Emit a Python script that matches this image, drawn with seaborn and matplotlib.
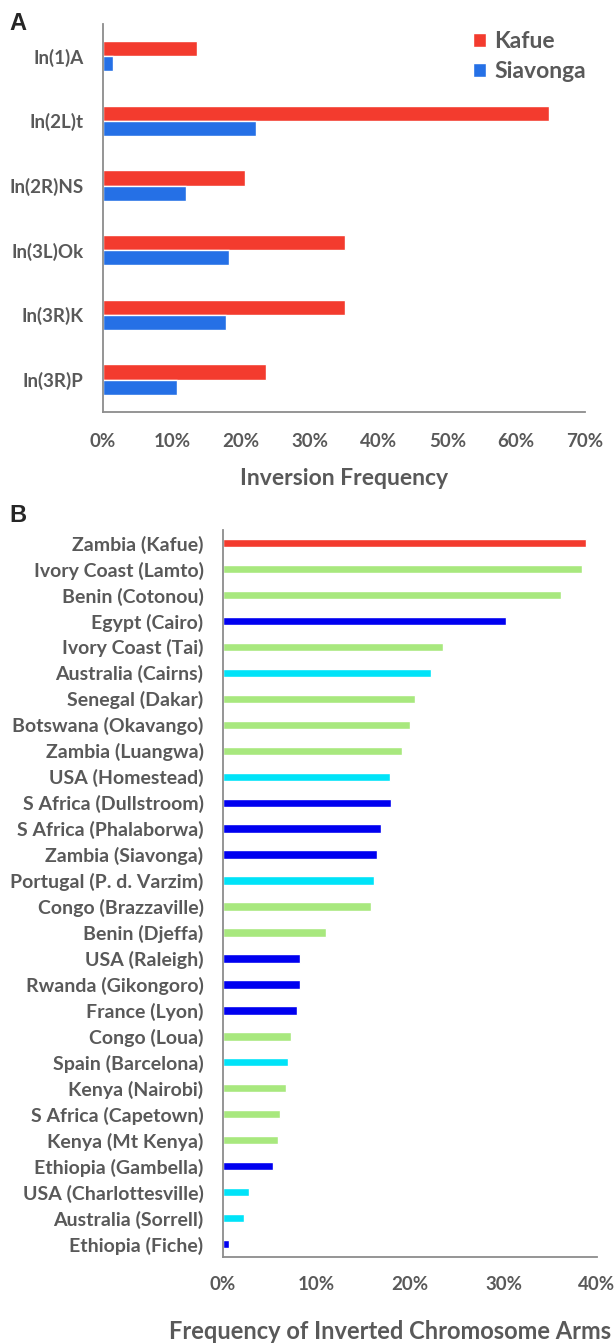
import pandas as pd
import numpy as np
import matplotlib
matplotlib.use('Agg')
import matplotlib.pyplot as plt
import seaborn as sns
from matplotlib.ticker import PercentFormatter

# panel A data
inversions = ['In(1)A', 'In(2L)t', 'In(2R)NS', 'In(3L)Ok', 'In(3R)K', 'In(3R)P']
kafue = [13.7, 64.7, 20.6, 35.1, 35.1, 23.6]
siavonga = [1.5, 22.2, 12.0, 18.3, 17.9, 10.7]

# panel B data
populations = ['Zambia (Kafue)', 'Ivory Coast (Lamto)', 'Benin (Cotonou)', 'Egypt (Cairo)',
               'Ivory Coast (Tai)', 'Australia (Cairns)', 'Senegal (Dakar)', 'Botswana (Okavango)',
               'Zambia (Luangwa)', 'USA (Homestead)', 'S Africa (Dullstroom)', 'S Africa (Phalaborwa)',
               'Zambia (Siavonga)', 'Portugal (P. d. Varzim)', 'Congo (Brazzaville)', 'Benin (Djeffa)',
               'USA (Raleigh)', 'Rwanda (Gikongoro)', 'France (Lyon)', 'Congo (Loua)',
               'Spain (Barcelona)', 'Kenya (Nairobi)', 'S Africa (Capetown)', 'Kenya (Mt Kenya)',
               'Ethiopia (Gambella)', 'USA (Charlottesville)', 'Australia (Sorrell)', 'Ethiopia (Fiche)']
arm_freq = [38.8, 38.4, 36.2, 30.3, 23.5, 22.2, 20.5, 20.0, 19.2, 17.9, 18.0, 16.9, 16.5, 16.2,
            15.8, 11.0, 8.2, 8.2, 7.9, 7.3, 7.0, 6.7, 6.1, 5.9, 5.4, 2.8, 2.2, 0.6]
groups = ['kafue', 'green', 'green', 'blue', 'green', 'cyan', 'green', 'green', 'green', 'cyan',
          'blue', 'blue', 'blue', 'cyan', 'green', 'green', 'blue', 'blue', 'blue', 'green',
          'cyan', 'green', 'green', 'green', 'blue', 'cyan', 'cyan', 'blue']

group_colors = {'kafue': '#F33B2E', 'green': '#A8E87E', 'blue': '#0000F0', 'cyan': '#00E3F8'}
txt = '#595959'
spine = '#8C8C8C'

sns.set_style('white')
plt.rcParams['font.family'] = ['Lato', 'DejaVu Sans']

fig = plt.figure(figsize=(6.16, 13.44), dpi=100)

# ---- panel A
dfa = pd.DataFrame({
    'inv': inversions * 2,
    'freq': kafue + siavonga,
    'site': ['Kafue'] * len(inversions) + ['Siavonga'] * len(inversions),
})
ax1 = fig.add_axes([0.1672, 0.6935, 0.7825, 0.2887])
sns.barplot(data=dfa, y='inv', x='freq', hue='site', orient='h', width=0.47,
            palette={'Kafue': '#F33B2E', 'Siavonga': '#2570E6'}, ax=ax1, saturation=1)
ax1.set_xlim(0, 70)
ax1.set_ylim(5.5, -0.5)
ax1.set_xticks(np.arange(0, 71, 10))
ax1.xaxis.set_major_formatter(PercentFormatter(100, decimals=0))
ax1.set_ylabel('')
ax1.set_xlabel('Inversion Frequency', fontsize=16.5, fontweight='bold', color=txt)
ax1.xaxis.set_label_coords(0.5, -0.144)
ax1.legend(loc='upper right', bbox_to_anchor=(1.045, 1.035), frameon=False,
           handlelength=0.58, handleheight=0.58, handletextpad=0.35, labelspacing=0.4,
           labelcolor=txt, prop={'weight': 'bold', 'size': 16.5})

# ---- panel B
dfb = pd.DataFrame({'pop': populations, 'freq': arm_freq, 'grp': groups})
ax2 = fig.add_axes([0.362, 0.0647, 0.6071, 0.5409])
sns.barplot(data=dfb, y='pop', x='freq', hue='pop', orient='h', width=0.32, legend=False,
            palette={p: group_colors[g] for p, g in zip(populations, groups)}, ax=ax2, saturation=1)
ax2.set_xlim(0, 40)
ax2.set_ylim(len(populations) - 0.5, -0.5)
ax2.set_xticks(np.arange(0, 41, 10))
ax2.xaxis.set_major_formatter(PercentFormatter(100, decimals=0))
ax2.set_ylabel('')
ax2.set_xlabel('Frequency of Inverted Chromosome Arms', fontsize=17, fontweight='bold', color=txt)
ax2.xaxis.set_label_coords(0.447, -0.087)

for ax, ysize, xpad in [(ax1, 13.5, 15), (ax2, 14, 13.5)]:
    for s in ['top', 'right']:
        ax.spines[s].set_visible(False)
    for s in ['left', 'bottom']:
        ax.spines[s].set_color(spine)
        ax.spines[s].set_linewidth(1.3)
    ax.tick_params(axis='x', direction='in', length=5, width=1.2, color=spine,
                   labelsize=13.5, labelcolor=txt, pad=xpad)
    ax.tick_params(axis='y', length=0, labelsize=ysize, labelcolor=txt, pad=14)
    for lab in ax.get_xticklabels() + ax.get_yticklabels():
        lab.set_fontweight('bold')

fig.text(9 / 616, 1 - 24 / 1344, 'A', fontsize=17, fontweight='bold', family='Liberation Sans',
         va='center', ha='left')
fig.text(9 / 616, 1 - 515 / 1344, 'B', fontsize=17, fontweight='bold', family='Liberation Sans',
         va='center', ha='left')

fig.savefig('out.png', dpi=100)
